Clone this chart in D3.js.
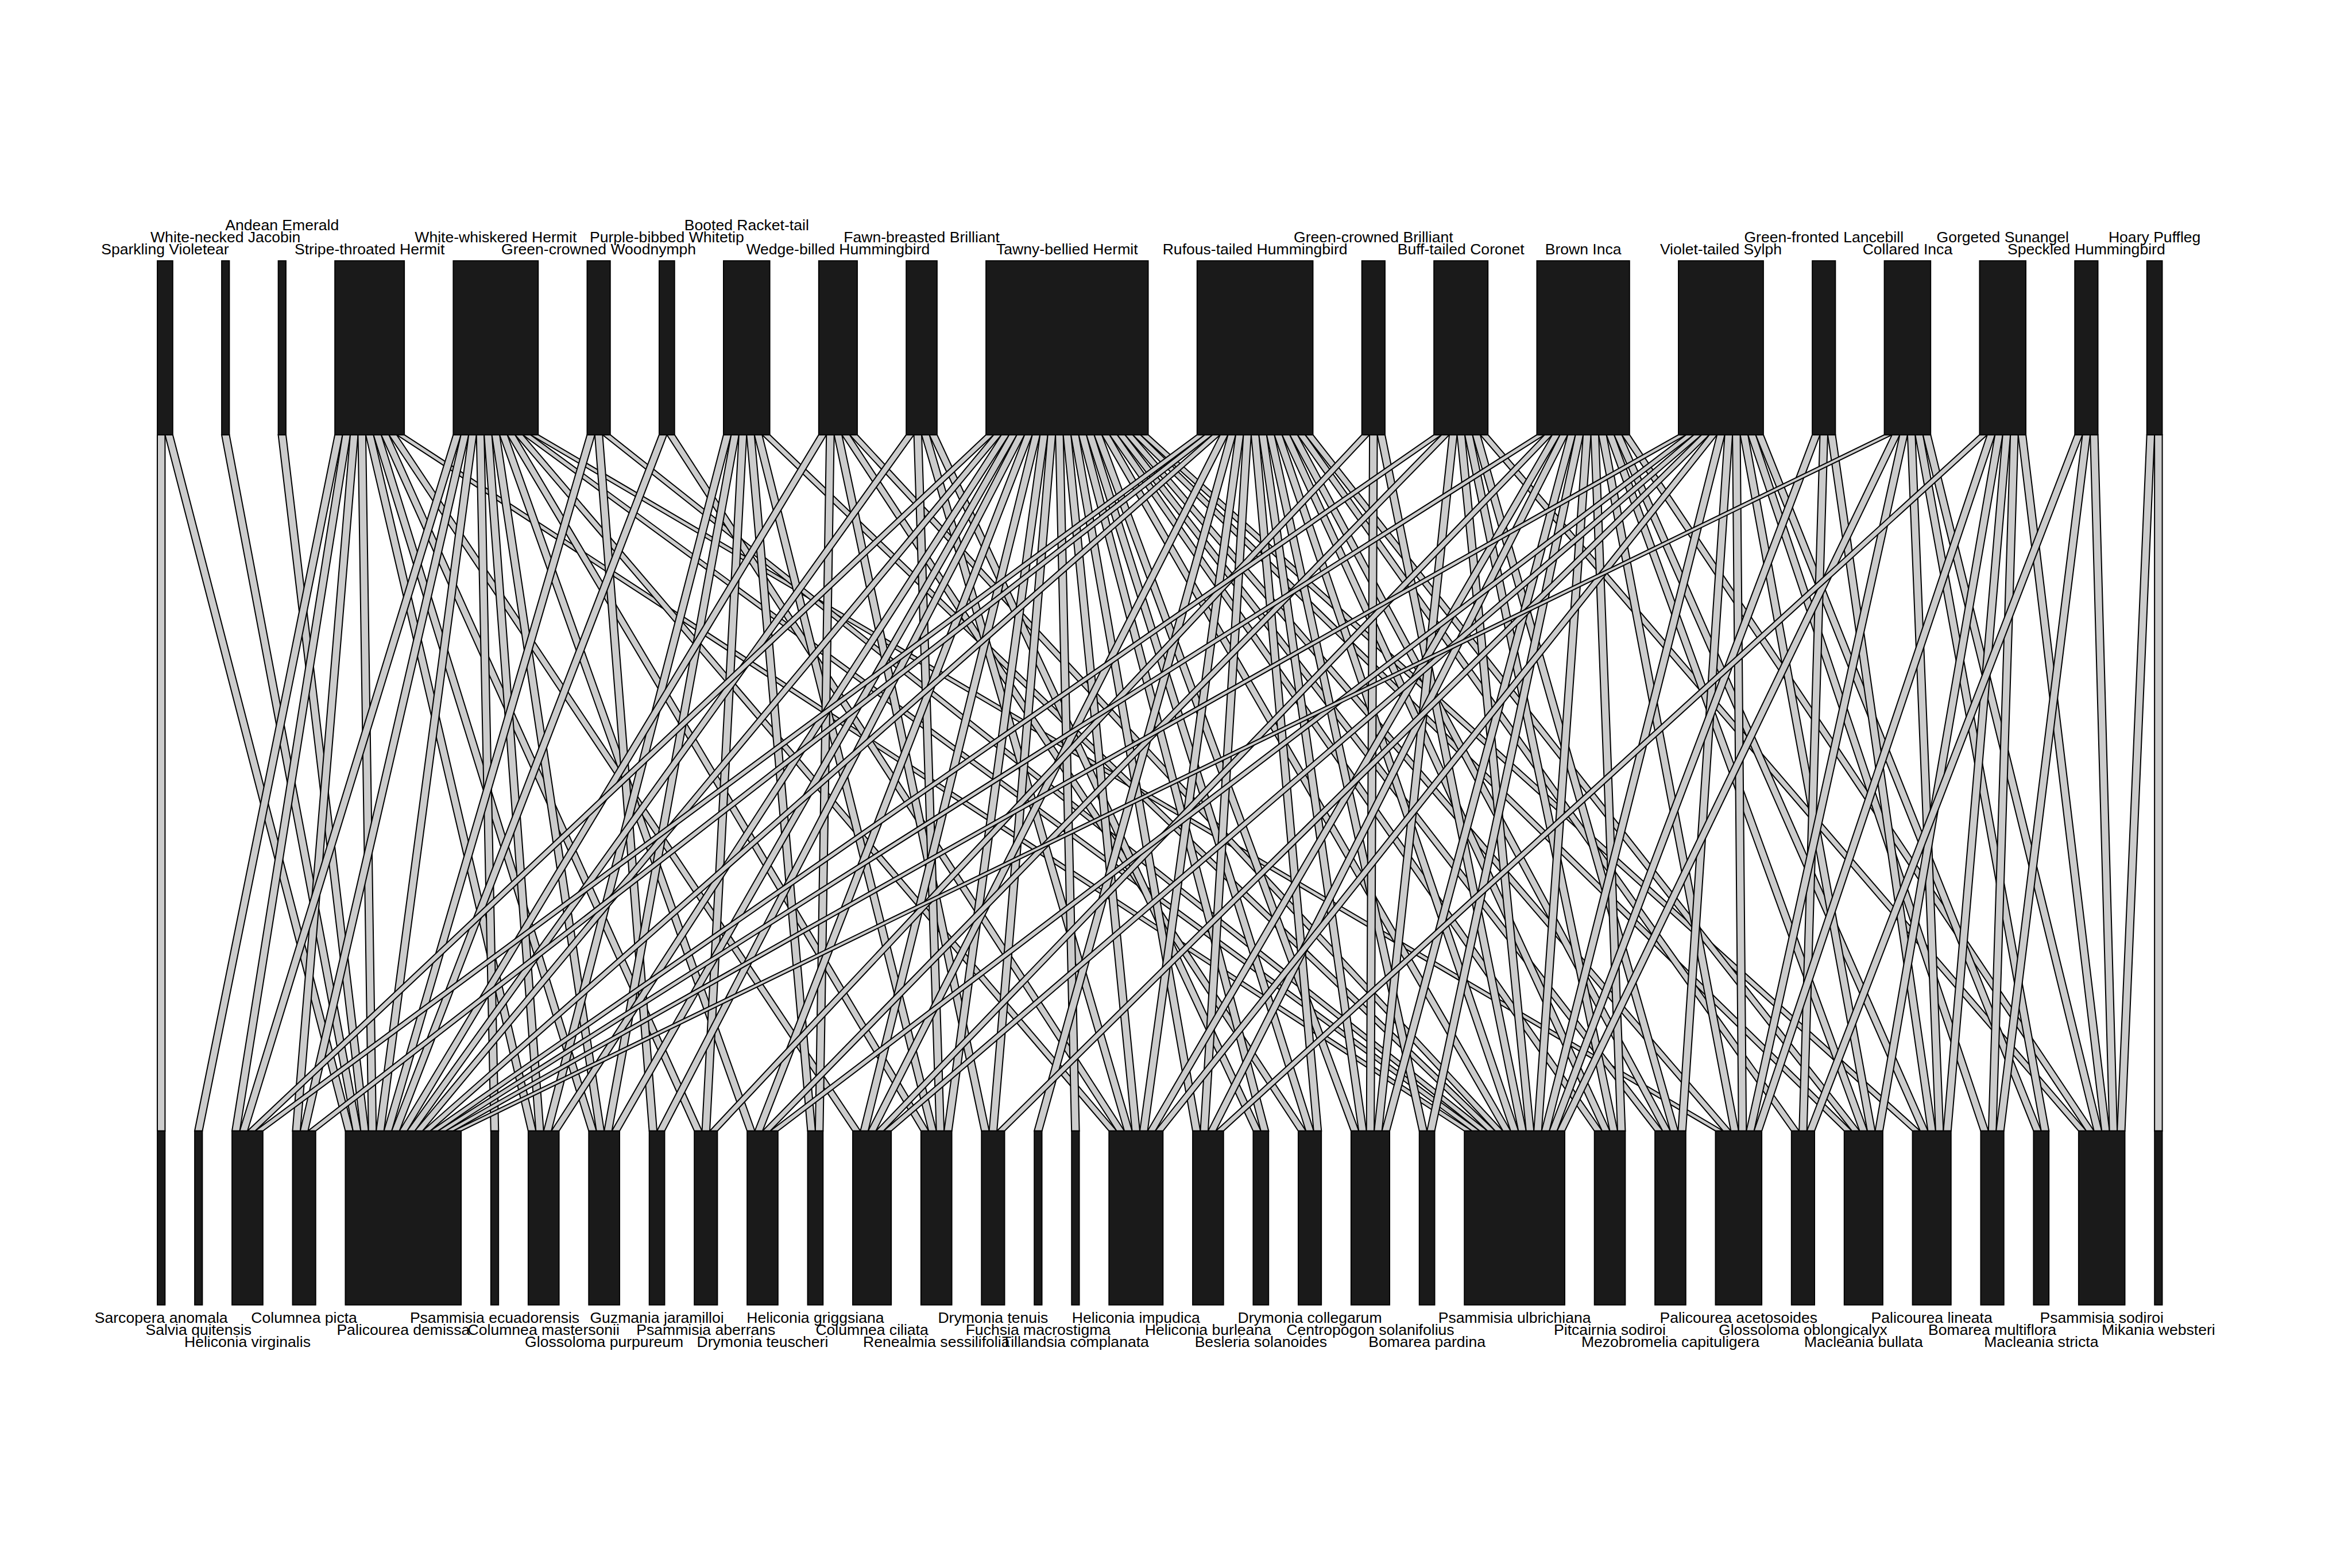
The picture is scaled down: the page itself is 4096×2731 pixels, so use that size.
<!DOCTYPE html>
<html>
<head>
<meta charset="utf-8">
<script src="https://cdn.jsdelivr.net/npm/d3@7"></script>
<style>
  html, body { margin: 0; padding: 0; background: #ffffff; }
  svg { display: block; }
</style>
</head>
<body>
<script>
// ---------------- data ----------------
const hummingbirds = [
  "Sparkling Violetear", "White-necked Jacobin", "Andean Emerald", "Stripe-throated Hermit",
  "White-whiskered Hermit", "Green-crowned Woodnymph", "Purple-bibbed Whitetip", "Booted Racket-tail",
  "Wedge-billed Hummingbird", "Fawn-breasted Brilliant", "Tawny-bellied Hermit", "Rufous-tailed Hummingbird",
  "Green-crowned Brilliant", "Buff-tailed Coronet", "Brown Inca", "Violet-tailed Sylph",
  "Green-fronted Lancebill", "Collared Inca", "Gorgeted Sunangel", "Speckled Hummingbird", "Hoary Puffleg"
];

const plants = [
  "Sarcopera anomala", "Salvia quitensis", "Heliconia virginalis", "Columnea picta", "Palicourea demissa",
  "Psammisia ecuadorensis", "Columnea mastersonii", "Glossoloma purpureum", "Guzmania jaramilloi",
  "Psammisia aberrans", "Drymonia teuscheri", "Heliconia griggsiana", "Columnea ciliata",
  "Renealmia sessilifolia", "Drymonia tenuis", "Fuchsia macrostigma", "Tillandsia complanata",
  "Heliconia impudica", "Heliconia burleana", "Besleria solanoides", "Drymonia collegarum",
  "Centropogon solanifolius", "Bomarea pardina", "Psammisia ulbrichiana", "Pitcairnia sodiroi",
  "Mezobromelia capituligera", "Palicourea acetosoides", "Glossoloma oblongicalyx", "Macleania bullata",
  "Palicourea lineata", "Bomarea multiflora", "Macleania stricta", "Psammisia sodiroi", "Mikania websteri"
];

// plants visited by each hummingbird (indices into plants), one interaction each
const plantsVisited = [
  [0, 4],
  [4],
  [4],
  [1, 2, 3, 4, 6, 7, 9, 12, 23],
  [2, 3, 4, 5, 6, 7, 10, 13, 17, 23, 26],
  [4, 8, 23],
  [4, 17],
  [6, 7, 9, 11, 13, 23],
  [4, 11, 14, 20, 23],
  [4, 13, 17, 19],
  [2, 4, 6, 7, 8, 10, 12, 13, 14, 16, 17, 18, 19, 20, 21, 23, 24, 25, 26, 28, 29],
  [2, 3, 4, 12, 15, 17, 18, 20, 21, 22, 23, 24, 25, 27, 28],
  [9, 21, 23],
  [4, 10, 21, 23, 24, 25, 32],
  [4, 12, 17, 18, 21, 22, 23, 24, 26, 28, 29, 32],
  [4, 10, 12, 14, 17, 23, 25, 26, 28, 30, 31],
  [23, 27, 29],
  [4, 23, 26, 29, 31, 32],
  [18, 26, 28, 29, 30, 32],
  [27, 30, 32],
  [32, 33]
];

// ---------------- layout (reference pixel space, scaled to window) ----------------
const REF_W = 4500, REF_H = 3000, SCALE = 4096 / 4500;
const highLabelRow = [0,1,2,0,1,0,1,2,0,1,0,0,1,0,0,0,1,0,1,0,1];
const lowLabelRow  = [0,1,2,0,1,0,1,2,0,1,2,0,1,2,0,1,2,0,1,2,0,1,2,0,1,2,0,1,2,0,1,2,0,1];

const links = [];
plantsVisited.forEach((list, i) => list.forEach(j => links.push({ h: i, l: j, w: 1 })));

const degH = hummingbirds.map((_, i) => d3.sum(links.filter(k => k.h === i), k => k.w));
const degL = plants.map((_, j) => d3.sum(links.filter(k => k.l === j), k => k.w));
const total = d3.sum(links, k => k.w);
const boxShare = 0.5125;                 // share of the width taken by boxes
const spanUnits = total / boxShare;
const gapH = (spanUnits - total) / (hummingbirds.length - 1);
const gapL = (spanUnits - total) / (plants.length - 1);

const startH = [], startL = [];
{ let a = 0; degH.forEach((d, i) => { startH[i] = a; a += d + gapH; }); }
{ let a = 0; degL.forEach((d, j) => { startL[j] = a; a += d + gapL; }); }

const x = d3.scaleLinear().domain([0, spanUnits]).range([301, 4137]);
const yHigh = d3.scaleLinear().domain([0, 1]).range([499, 832]);   // top boxes
const yLow  = d3.scaleLinear().domain([0, 1]).range([2164, 2497]); // bottom boxes

// link positions: within a top box ordered by plant order, within a bottom box by bird order
const offH = hummingbirds.map(() => 0), offL = plants.map(() => 0);
const sortedTop = links.slice().sort((a, b) => a.h - b.h || a.l - b.l);
sortedTop.forEach(k => { k.t0 = startH[k.h] + offH[k.h]; offH[k.h] += k.w; });
const sortedBot = links.slice().sort((a, b) => a.l - b.l || a.h - b.h);
sortedBot.forEach(k => { k.b0 = startL[k.l] + offL[k.l]; offL[k.l] += k.w; });

// ---------------- drawing ----------------
const svg = d3.select("body").append("svg")
  .attr("width", 4096).attr("height", 2731)
  .attr("viewBox", "0 0 4096 2731");
svg.append("rect").attr("width", 4096).attr("height", 2731).attr("fill", "#ffffff");
const g = svg.append("g").attr("transform", `scale(${SCALE})`);

// interactions
g.append("g").selectAll("polygon").data(links).join("polygon")
  .attr("points", k => [
    [x(k.t0), yHigh(1)], [x(k.t0 + k.w), yHigh(1)],
    [x(k.b0 + k.w), yLow(0)], [x(k.b0), yLow(0)]
  ].map(p => p.join(",")).join(" "))
  .attr("fill", "#cccccc")
  .attr("stroke", "#000000")
  .attr("stroke-width", 2.2)
  .attr("stroke-linejoin", "miter");

// boxes
g.append("g").selectAll("rect").data(hummingbirds).join("rect")
  .attr("x", (d, i) => x(startH[i]))
  .attr("width", (d, i) => x(startH[i] + degH[i]) - x(startH[i]))
  .attr("y", yHigh(0)).attr("height", yHigh(1) - yHigh(0))
  .attr("fill", "#1a1a1a").attr("stroke", "#000").attr("stroke-width", 2);

g.append("g").selectAll("rect").data(plants).join("rect")
  .attr("x", (d, j) => x(startL[j]))
  .attr("width", (d, j) => x(startL[j] + degL[j]) - x(startL[j]))
  .attr("y", yLow(0)).attr("height", yLow(1) - yLow(0))
  .attr("fill", "#1a1a1a").attr("stroke", "#000").attr("stroke-width", 2);

// labels
const font = "'Liberation Sans', Arial, Helvetica, sans-serif";
const rowStep = 23.2;
g.append("g").selectAll("text").data(hummingbirds).join("text")
  .attr("x", (d, i) => x(startH[i] + degH[i] / 2))
  .attr("y", (d, i) => 487 - rowStep * highLabelRow[i])
  .attr("text-anchor", "middle")
  .attr("font-family", font).attr("font-size", 29.2).attr("fill", "#000")
  .text(d => d);

g.append("g").selectAll("text").data(plants).join("text")
  .attr("x", (d, j) => x(startL[j] + degL[j] / 2))
  .attr("y", (d, j) => 2531 + rowStep * lowLabelRow[j])
  .attr("text-anchor", "middle")
  .attr("font-family", font).attr("font-size", 29.2).attr("fill", "#000")
  .text(d => d);
</script>
</body>
</html>
